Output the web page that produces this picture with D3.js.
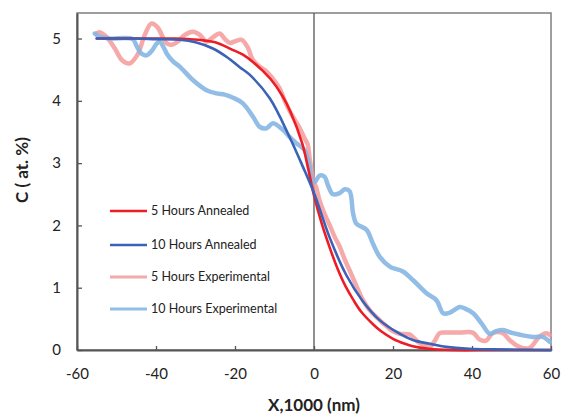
<!DOCTYPE html>
<html><head><meta charset="utf-8">
<script src="https://cdn.jsdelivr.net/npm/d3@7"></script>
<style>body{margin:0;background:#fff}svg{display:block}</style>
</head><body>
<svg id="c" width="561" height="417"></svg>
<script>
// ---- data ----
const xTicks = [-60, -40, -20, 0, 20, 40, 60];
const yTicks = [0, 1, 2, 3, 4, 5];
const seriesNames = ["5 Hours Annealed", "10 Hours Annealed", "5 Hours Experimental", "10 Hours Experimental"];

const annealed5X = [-55, -45, -40, -35, -32, -28, -25, -21, -18, -15, -11, -8, -6, -3, -1.5, 0, 2, 4, 6, 8, 10, 12, 15, 17, 20, 23, 25, 29, 35, 45, 60];
const annealed5Y = [5.0, 5.0, 5.0, 5.0, 4.99, 4.97, 4.94, 4.83, 4.74, 4.6, 4.35, 4.08, 3.83, 3.32, 2.92, 2.48, 2.02, 1.64, 1.3, 1.02, 0.8, 0.61, 0.41, 0.3, 0.18, 0.1, 0.06, 0.02, 0.0, 0.0, 0.0];

const annealed10X = [-55, -45, -40, -34, -30, -25.6, -22, -18.8, -16.3, -11.2, -6.2, -2.8, 0, 4, 8.2, 12.4, 16.6, 20.9, 25, 29.3, 33.5, 39.4, 45, 60];
const annealed10Y = [5.0, 5.0, 4.99, 4.98, 4.94, 4.84, 4.7, 4.54, 4.42, 4.04, 3.42, 2.94, 2.52, 1.8, 1.2, 0.78, 0.48, 0.29, 0.16, 0.1, 0.05, 0.02, 0.01, 0.0];

const exp5X = [-55.1, -54.3, -52.6, -50.5, -48.7, -46.7, -44.6, -42.9, -41.2, -39.6, -37.4, -36, -34.5, -32.7, -30.6, -28.9, -27.2, -25.6, -23.9, -22.4, -21.3, -19.8, -18.3, -16.8, -15.5, -13.8, -12, -10.5, -8.7, -7.4, -6.2, -4.9, -3.6, -2.4, -1.6, -1.1, -0.25, 0.6, 1.4, 2.7, 4, 5.2, 6.5, 7.8, 9, 10.6, 12.4, 14.1, 16.6, 18.4, 20, 21.7, 24.2, 25.5, 26.8, 29.3, 30.6, 31.8, 33.5, 36.9, 40.2, 41.9, 43.6, 45.2, 47.8, 49.5, 52, 54.5, 57, 58.8, 59.7];
const exp5Y = [5.08, 5.1, 5.03, 4.85, 4.66, 4.6, 4.75, 5.05, 5.24, 5.18, 4.93, 4.9, 4.95, 5.06, 5.11, 5.06, 4.95, 5.02, 5.08, 4.98, 4.93, 4.96, 4.98, 4.86, 4.66, 4.55, 4.47, 4.36, 4.2, 4.0, 3.84, 3.7, 3.56, 3.4, 3.3, 3.08, 2.75, 2.6, 2.4, 2.18, 2.0, 1.82, 1.66, 1.45, 1.28, 1.05, 0.8, 0.64, 0.48, 0.38, 0.3, 0.26, 0.25, 0.18, 0.11, 0.05, 0.15, 0.27, 0.28, 0.28, 0.28, 0.17, 0.15, 0.27, 0.27, 0.16, 0.05, 0.03, 0.21, 0.27, 0.24];

const exp10X = [-55.5, -54.3, -51.7, -45.9, -44.9, -43.7, -42.4, -41.1, -39.8, -39.1, -38, -37.3, -35.8, -34, -30.6, -27.2, -24.7, -22.6, -20.5, -18, -15.4, -13.7, -12, -10.4, -7.8, -6.2, -4.5, -2.4, -1.1, -0.6, 0.2, 1.4, 2.7, 3.5, 4.8, 6.5, 7.8, 9, 9.9, 10.7, 13.3, 14.9, 16.6, 19.2, 22.5, 25.1, 28.5, 31, 32.7, 34.4, 36.9, 38.4, 40.3, 42.5, 44.5, 46, 47.8, 50.4, 55.4, 57.9, 59.7];
const exp10Y = [5.08, 5.03, 5.0, 4.99, 4.88, 4.76, 4.73, 4.8, 4.92, 4.95, 4.85, 4.76, 4.64, 4.55, 4.33, 4.17, 4.12, 4.1, 4.05, 3.96, 3.74, 3.58, 3.56, 3.64, 3.53, 3.42, 3.32, 3.21, 2.94, 2.73, 2.7, 2.8, 2.78, 2.65, 2.5, 2.52, 2.58, 2.55, 2.19, 2.03, 1.93, 1.71, 1.5, 1.34, 1.26, 1.12, 0.91, 0.8, 0.59, 0.6, 0.69, 0.66, 0.59, 0.42, 0.26, 0.3, 0.32, 0.27, 0.21, 0.21, 0.13];

// ---- layout ----
const svg = d3.select("#c");
const L = 77, R = 551, T = 13, B = 350;
const x = d3.scaleLinear().domain([-60, 60]).range([L, R]);
const y = d3.scaleLinear().domain([0, 5.41]).range([B, T]);
const font = "Lato, 'Open Sans', sans-serif";

// frame
svg.append("rect").attr("x", L).attr("y", T).attr("width", R - L).attr("height", B - T)
  .attr("fill", "none").attr("stroke", "#7f7f7f").attr("stroke-width", 1.5);

// zero line
svg.append("line").attr("x1", x(0)).attr("x2", x(0)).attr("y1", T).attr("y2", B)
  .attr("stroke", "#555").attr("stroke-width", 1.3);

// axes
const xAxis = d3.axisBottom(x).tickValues(xTicks).tickSizeInner(-4).tickSizeOuter(0).tickPadding(18)
  .tickFormat(d3.format("d"));
const gx = svg.append("g").attr("transform", `translate(0,${B})`).call(xAxis);
const yAxis = d3.axisLeft(y).tickValues(yTicks).tickSizeInner(-5).tickSizeOuter(0).tickPadding(16)
  .tickFormat(d3.format("d"));
const gy = svg.append("g").attr("transform", `translate(${L},0)`).call(yAxis);
[gx, gy].forEach(g => {
  g.select(".domain").attr("stroke", "#555").attr("stroke-width", 2);
  g.selectAll(".tick line").attr("stroke", "#555").attr("stroke-width", 1.3);
  g.selectAll(".tick text").attr("font-family", font).attr("font-size", 15).attr("fill", "#222");
});
gx.selectAll(".tick text").text(d => d < 0 ? "-" + Math.abs(d) : d);

// series
const line = d3.line().x(d => x(d[0])).y(d => y(d[1])).curve(d3.curveCatmullRom.alpha(0.5));
const zip = (a, b) => a.map((v, i) => [v, b[i]]);
const series = [
  {name: seriesNames[2], pts: zip(exp5X, exp5Y), color: "#f49a9a", w: 4.5, op: 0.85},
  {name: seriesNames[3], pts: zip(exp10X, exp10Y), color: "#86b6e4", w: 4.5, op: 0.9},
  {name: seriesNames[0], pts: zip(annealed5X, annealed5Y), color: "#ee1c24", w: 2.6, op: 1},
  {name: seriesNames[1], pts: zip(annealed10X, annealed10Y), color: "#3b62b6", w: 2.6, op: 1}
];
const plot = svg.append("g");
series.forEach(s => {
  plot.append("path").datum(s.pts).attr("d", line).attr("fill", "none")
    .attr("stroke", s.color).attr("stroke-width", s.w).attr("stroke-opacity", s.op)
    .attr("stroke-linejoin", "round").attr("stroke-linecap", "round");
});

// legend
const legOrder = [2, 3, 0, 1];
const legY = [211, 245, 277, 309];
const leg = svg.append("g");
legOrder.forEach((si, i) => {
  const s = series[si];
  leg.append("line").attr("x1", 110).attr("x2", 147).attr("y1", legY[i]).attr("y2", legY[i])
    .attr("stroke", s.color).attr("stroke-width", si < 2 ? 3 : 2.6).attr("stroke-opacity", s.op);
  leg.append("text").attr("x", 151).attr("y", legY[i]).attr("dy", "0.35em")
    .attr("font-family", font).attr("font-size", 12.5).attr("fill", "#222").text(s.name);
});

// axis titles
svg.append("text").attr("x", x(0)).attr("y", 411).attr("text-anchor", "middle")
  .attr("font-family", font).attr("font-weight", "bold").attr("font-size", 17).attr("fill", "#222")
  .text("X,1000 (nm)");
svg.append("text").attr("transform", "translate(28,170) rotate(-90)").attr("text-anchor", "middle")
  .attr("font-family", font).attr("font-weight", "bold").attr("font-size", 17).attr("fill", "#222")
  .text("C ( at. %)");
</script>
</body></html>
